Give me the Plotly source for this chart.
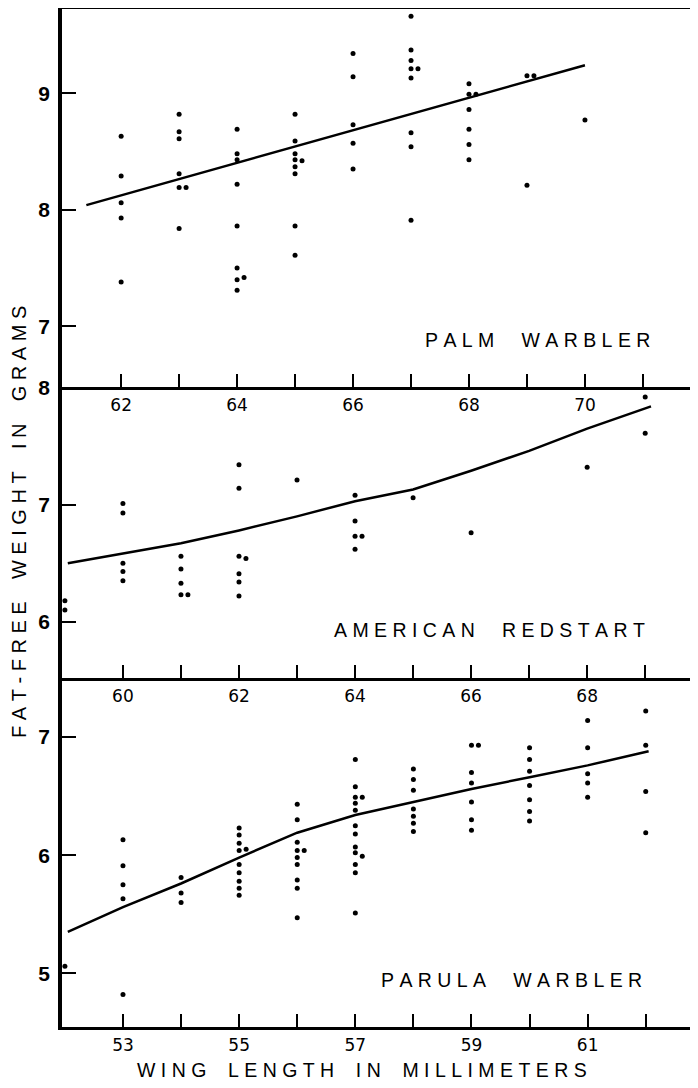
import plotly.graph_objects as go

# ---------------- data ----------------
# Palm Warbler (wing length mm, fat-free weight g)
palm_wing = [62]*5 + [63]*7 + [64]*9 + [65]*9 + [66]*5 + [67]*9 + [68]*7 + [69]*3 + [70]
palm_weight = [8.63, 8.29, 8.06, 7.93, 7.38,
               8.82, 8.67, 8.61, 8.31, 8.19, 8.19, 7.84,
               8.69, 8.48, 8.43, 8.22, 7.86, 7.50, 7.40, 7.42, 7.31,
               8.82, 8.59, 8.48, 8.43, 8.42, 8.37, 8.31, 7.86, 7.61,
               9.34, 9.14, 8.73, 8.57, 8.35,
               9.66, 9.37, 9.28, 9.21, 9.21, 9.13, 8.66, 8.54, 7.91,
               9.08, 8.99, 8.99, 8.86, 8.69, 8.56, 8.43,
               9.15, 9.15, 8.21,
               8.77]
palm_fit_wing = [61.4, 70.0]
palm_fit_weight = [8.04, 9.24]

# American Redstart
redstart_wing = [59]*2 + [60]*5 + [61]*5 + [62]*7 + [63] + [64]*5 + [65] + [66] + [68] + [69]*2
redstart_weight = [6.18, 6.10,
                   7.01, 6.93, 6.50, 6.43, 6.35,
                   6.56, 6.45, 6.33, 6.23, 6.23,
                   7.34, 7.14, 6.56, 6.54, 6.41, 6.34, 6.22,
                   7.21,
                   7.08, 6.86, 6.73, 6.73, 6.62,
                   7.06,
                   6.76,
                   7.32,
                   7.92, 7.61]
redstart_fit_wing = [59.05, 60, 61, 62, 63, 64, 65, 66, 67, 68, 69.1]
redstart_fit_weight = [6.50, 6.58, 6.67, 6.78, 6.90, 7.03, 7.13, 7.29, 7.46, 7.65, 7.84]

# Parula Warbler
parula_wing = ([52] + [53]*5 + [54]*3 + [55]*10 + [56]*10 + [57]*14 + [58]*7 +
               [59]*7 + [60]*7 + [61]*5 + [62]*4)
parula_weight = [5.06,
                 6.13, 5.91, 5.75, 5.63, 4.82,
                 5.81, 5.68, 5.60,
                 6.23, 6.17, 6.10, 6.04, 6.05, 5.92, 5.85, 5.78, 5.72, 5.66,
                 6.43, 6.30, 6.11, 6.04, 6.04, 5.98, 5.92, 5.79, 5.72, 5.47,
                 6.81, 6.58, 6.49, 6.49, 6.44, 6.38, 6.25, 6.18, 6.07, 6.02, 5.99, 5.92, 5.85, 5.51,
                 6.73, 6.64, 6.55, 6.39, 6.33, 6.27, 6.20,
                 6.93, 6.93, 6.70, 6.61, 6.45, 6.30, 6.21,
                 6.91, 6.81, 6.71, 6.59, 6.47, 6.37, 6.29,
                 7.14, 6.91, 6.69, 6.61, 6.49,
                 7.22, 6.93, 6.54, 6.19]
parula_fit_wing = [52.05, 53, 54, 55, 56, 57, 58, 59, 60, 61, 62.05]
parula_fit_weight = [5.35, 5.56, 5.76, 5.98, 6.19, 6.34, 6.45, 6.56, 6.66, 6.76, 6.88]

# ticks
palm_xticks = list(range(62, 72))
palm_xlabels = ["62", "", "64", "", "66", "", "68", "", "70", ""]
redstart_xticks = list(range(60, 70))
redstart_xlabels = ["60", "", "62", "", "64", "", "66", "", "68", ""]
parula_xticks = list(range(53, 63))
parula_xlabels = ["53", "", "55", "", "57", "", "59", "", "61", ""]
palm_yticks = [7, 8, 9]
redstart_yticks = [6, 7, 8]
parula_yticks = [5, 6, 7]

species = ["PALM WARBLER", "AMERICAN REDSTART", "PARULA WARBLER"]
x_title = "WING LENGTH IN MILLIMETERS"
y_title = "FAT-FREE WEIGHT IN GRAMS"

FONT = "Liberation Sans"
TICKFONT = "DejaVu Sans"
NB = "\u00a0"


def spaced(text, gap=1, word=5):
    return (NB * word).join((NB * gap).join(w) for w in text.split(" "))


def spread(xs, ys, step=0.12, tol=0.035):
    """Shift coincident dots in the same column sideways so both show."""
    out = []
    for i, (x, y) in enumerate(zip(xs, ys)):
        n = sum(1 for j in range(i) if xs[j] == x and abs(ys[j] - y) < tol)
        out.append(x + n * step)
    return out


fig = go.Figure()
panels = [
    (palm_wing, palm_weight, palm_fit_wing, palm_fit_weight, "x", "y"),
    (redstart_wing, redstart_weight, redstart_fit_wing, redstart_fit_weight, "x2", "y2"),
    (parula_wing, parula_weight, parula_fit_wing, parula_fit_weight, "x3", "y3"),
]
for wx, wy, fx, fy, xa, ya in panels:
    fig.add_trace(go.Scatter(x=spread(wx, wy), y=wy, mode="markers", xaxis=xa, yaxis=ya,
                             marker=dict(color="black", size=5), showlegend=False))
    fig.add_trace(go.Scatter(x=fx, y=fy, mode="lines", xaxis=xa, yaxis=ya,
                             line=dict(color="black", width=2.5), showlegend=False))

# plot area spans 1018 px vertically; panel boundaries as paper fractions
d3 = [0.0, 0.34283]
d2 = [0.34283, 0.62868]
d1 = [0.62868, 1.0]

xcommon = dict(showline=True, linecolor="black", linewidth=3, ticks="inside", ticklen=13,
               tickwidth=2, tickcolor="black", showgrid=False, zeroline=False,
               automargin=False,
               tickfont=dict(family=TICKFONT, size=17, color="black"), ticklabelstandoff=1)
ycommon = dict(showline=True, linecolor="black", linewidth=3.5, ticks="inside", ticklen=14,
               tickwidth=2, tickcolor="black", showgrid=False, zeroline=False,
               automargin=False,
               tickfont=dict(family=FONT, size=21, color="black", weight="bold"),
               ticklabelstandoff=4)

# the page body has an 8 px margin; size the figure so it fits the window exactly
fig.update_layout(
    template="none",
    width=690, height=1072,
    margin=dict(l=54, r=0, t=1, b=53, autoexpand=False),
    plot_bgcolor="white", paper_bgcolor="white",
    xaxis=dict(xcommon, range=[60.98, 71.95], tickvals=palm_xticks, ticktext=palm_xlabels,
               anchor="y", mirror=True),
    yaxis=dict(ycommon, range=[6.48, 9.722], tickvals=palm_yticks, domain=d1, anchor="x"),
    xaxis2=dict(xcommon, range=[58.95, 69.91], tickvals=redstart_xticks,
                ticktext=redstart_xlabels, anchor="y2"),
    yaxis2=dict(ycommon, range=[5.52, 8.005], tickvals=redstart_yticks, domain=d2, anchor="x2"),
    xaxis3=dict(xcommon, range=[51.95, 62.9], tickvals=parula_xticks,
                ticktext=parula_xlabels, anchor="y3"),
    yaxis3=dict(ycommon, range=[4.545, 7.50], tickvals=parula_yticks, domain=d3, anchor="x3"),
)

lab_font = dict(family=FONT, size=19.5, color="black")
annos = [
    (spaced(species[0]), 0.7476, 0.6749, 0),
    (spaced(species[1]), 0.6714, 0.3900, 0),
    (spaced(species[2]), 0.7068, 0.0462, 0),
    (spaced(x_title, 1, 4), 0.4717, -0.0422, 0),
    (spaced(y_title, 1, 4), -0.0676, 0.4961, -90),
]
for text, xp, yp, ang in annos:
    fig.add_annotation(text=text, x=xp, y=yp, xref="paper", yref="paper",
                       xanchor="center", yanchor="middle", showarrow=False,
                       textangle=ang, font=lab_font if ang == 0 else dict(lab_font, size=20))

fig.write_html("out.html")
